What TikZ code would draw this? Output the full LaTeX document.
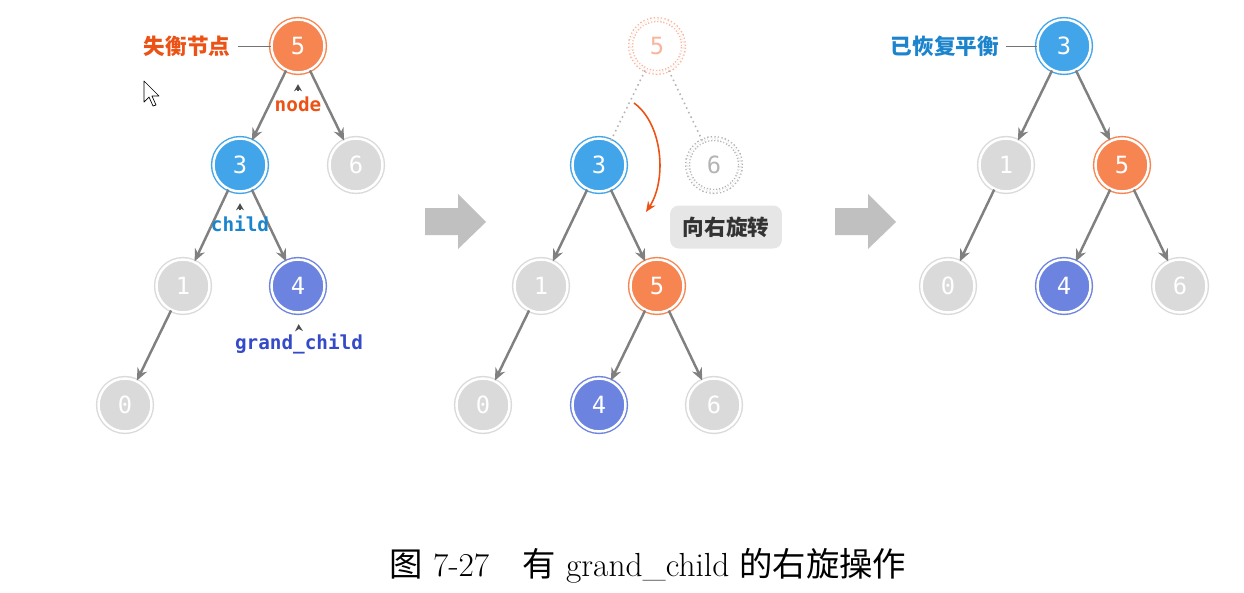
\documentclass[tikz,border=0pt]{standalone}
\usepackage{fontspec}
\usetikzlibrary{arrows.meta}
\newfontfamily\cjk{Noto Sans CJK SC}
\newfontfamily\monofnt{DejaVu Sans Mono}
\definecolor{orangefill}{RGB}{247,133,82}
\definecolor{bluefill}{RGB}{66,165,234}
\definecolor{purplefill}{RGB}{108,132,224}
\definecolor{greyfill}{RGB}{218,218,218}
\definecolor{edgegrey}{RGB}{128,128,128}
\definecolor{redtxt}{RGB}{236,82,22}
\definecolor{bluetxt}{RGB}{28,132,205}
\definecolor{purpletxt}{RGB}{52,74,200}
\definecolor{fadeorange}{RGB}{248,182,158}
\definecolor{fadegrey}{RGB}{180,180,180}
\definecolor{arrowgrey}{RGB}{192,192,192}
\definecolor{boxgrey}{RGB}{230,230,230}
\tikzset{
  tnode/.style={circle,minimum size=1.06cm,inner sep=0pt,draw=#1,fill=#1,double=white,double distance=1.4pt,line width=0.8pt,text=white,font=\monofnt\fontsize{13.5}{13.5}\selectfont},
  fadenode/.style={circle,minimum size=1.06cm,inner sep=0pt,draw=#1,double=white,double distance=1.4pt,line width=0.8pt,dash pattern=on 0.7pt off 1.2pt,text=#1,font=\monofnt\fontsize{13.5}{13.5}\selectfont},
  link/.style={draw=edgegrey,line width=1.4pt,-{Stealth[length=7pt,width=6pt]}},
  ghostlink/.style={draw=fadegrey,line width=0.9pt,dotted},
  ptr/.style={draw=black!70,line width=0.7pt,-{Stealth[length=4pt,width=4.5pt]},shorten <=2pt,shorten >=0.22cm},
  codelbl/.style={inner sep=1pt,text=#1,font=\monofnt\bfseries\fontsize{11}{11}\selectfont},
  cnlbl/.style={inner sep=4pt,text=#1,font=\cjk\bfseries\fontsize{12.3}{12.3}\selectfont},
  tagline/.style={draw=black!55,line width=0.5pt}
}
\begin{document}
\begin{tikzpicture}[x=0.02cm,y=-0.02cm]
        \useasboundingbox (0,0) rectangle (1244,592);
        % before rotation
        \node[tnode=orangefill] (n5) at (298,46) {5};
        \node[tnode=bluefill] (n3) at (240,165) {3};
        \node[tnode=greyfill] (n6) at (356,165) {6};
        \node[tnode=greyfill] (n1) at (183,286) {1};
        \node[tnode=purplefill] (n4) at (298,286) {4};
        \node[tnode=greyfill] (n0) at (125,405) {0};
        \draw[link](n5)--(n3);
        \draw[link](n5)--(n6);
        \draw[link](n3)--(n1);
        \draw[link](n3)--(n4);
        \draw[link](n1)--(n0);
        \node[cnlbl=redtxt] (lfail) at (187,46) {失衡节点};
        \draw[tagline](lfail.east)--(n5.west);
        \node[codelbl=redtxt] (lnode) at (298,104) {node};
        \node[codelbl=bluetxt] (lchild) at (240,224) {child};
        \node[codelbl=purpletxt] (lgrand) at (299,344) {grand\_child};
        \draw[ptr](lnode.north)--(n5.south);
        \draw[ptr](lchild.north)--(n3.south);
        \draw[ptr](lgrand.north)--(n4.south);
        \draw[fill=white,draw=black,line width=0.4pt,line join=round](144,81)--(144,102)--(149,97)--(153,106)--(156,105)--(152,96)--(159,96)--cycle;
        \fill[arrowgrey](425,208)--(458,208)--(458,194)--(486,222)--(458,249)--(458,235)--(425,235)--cycle;
        % rotating
        \node[fadenode=fadeorange] (f5) at (657,46) {5};
        \node[fadenode=fadegrey] (f6) at (714,165) {6};
        \node[tnode=bluefill] (m3) at (599,165) {3};
        \node[tnode=greyfill] (m1) at (541,286) {1};
        \node[tnode=orangefill] (m5) at (657,286) {5};
        \node[tnode=greyfill] (m0) at (483,405) {0};
        \node[tnode=purplefill] (m4) at (599,405) {4};
        \node[tnode=greyfill] (m6) at (714,405) {6};
        \draw[ghostlink](f5)--(m3);
        \draw[ghostlink](f5)--(f6);
        \draw[link](m3)--(m1);
        \draw[link](m3)--(m5);
        \draw[link](m1)--(m0);
        \draw[link](m5)--(m4);
        \draw[link](m5)--(m6);
        \coordinate (rotS) at (634,103);
        \coordinate (rotE) at (646,212);
        \draw[redtxt,line width=0.9pt,-{Stealth[length=6pt,width=5pt]}](rotS)..controls(663,124)and(667,180)..(rotE);
        \node[fill=boxgrey,rounded corners=5pt,minimum width=2.24cm,minimum height=0.86cm,text=black!80,font=\cjk\bfseries\fontsize{12.3}{12.3}\selectfont] (lrot) at (726,227) {向右旋转};
        \fill[arrowgrey](835,208)--(868,208)--(868,194)--(896,222)--(868,249)--(868,235)--(835,235)--cycle;
        % after rotation
        \node[tnode=bluefill] (r3) at (1064,46) {3};
        \node[tnode=greyfill] (r1) at (1006,165) {1};
        \node[tnode=orangefill] (r5) at (1122,165) {5};
        \node[tnode=greyfill] (r0) at (948,286) {0};
        \node[tnode=purplefill] (r4) at (1064,286) {4};
        \node[tnode=greyfill] (r6) at (1180,286) {6};
        \draw[link](r3)--(r1);
        \draw[link](r3)--(r5);
        \draw[link](r1)--(r0);
        \draw[link](r5)--(r4);
        \draw[link](r5)--(r6);
        \node[cnlbl=bluetxt] (lok) at (945,46) {已恢复平衡};
        \draw[tagline](lok.east)--(r3.west);
        \node[font=\fontsize{19}{19}\selectfont] (cap) at (648,566) {{\cjk 图} 7-27\quad{\cjk 有} grand\_child {\cjk 的右旋操作}};
    \end{tikzpicture}
\end{document}
